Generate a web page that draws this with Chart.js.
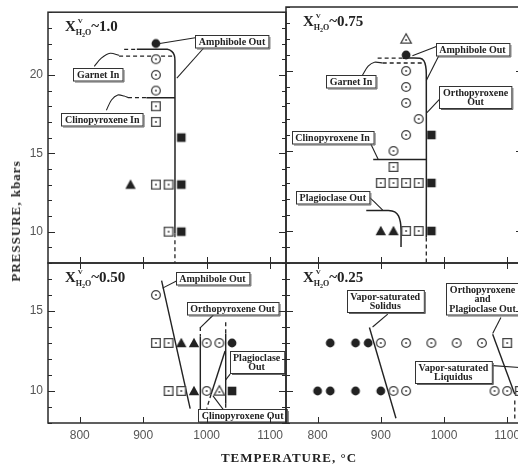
<!DOCTYPE html>
<html>
<head>
<meta charset="utf-8">
<script src="https://cdn.jsdelivr.net/npm/chart.js@4.4.0/dist/chart.umd.min.js"></script>
<style>
  html, body { margin: 0; padding: 0; background: #fff; overflow: hidden; width: 518px; height: 467px; }
  canvas { position: absolute; left: 0; top: 0; }
  .axis-title { position: absolute; font: bold 13px "Liberation Serif", serif; color: #222; letter-spacing: 1px; white-space: nowrap; }
  #ytitle { left: 16px; top: 221px; transform: translate(-50%, -50%) rotate(-90deg); }
  #xtitle { left: 289px; top: 458px; transform: translate(-50%, -50%); }
</style>
</head>
<body>
<canvas id="tl" width="530" height="467"></canvas>
<canvas id="tr" width="530" height="467"></canvas>
<canvas id="bl" width="530" height="467"></canvas>
<canvas id="br" width="530" height="467"></canvas>
<div class="axis-title" id="ytitle">PRESSURE, kbars</div>
<div class="axis-title" id="xtitle">TEMPERATURE, °C</div>
<script>
// ---- tick labels ----
const tempTicks = [800, 900, 1000, 1100];
const topPressTicks = [10, 15, 20];
const bottomPressTicks = [10, 15];

// ---- X(H2O) ~ 1.0 : [temperature, pressure] ----
const w100FilledCircle = [[920, 22]];
const w100OpenCircle = [[920, 21], [920, 20], [920, 19]];
const w100OpenSquare = [[920, 18], [920, 17], [920, 13], [940, 13], [940, 10]];
const w100FilledSquare = [[960, 16], [960, 13], [960, 10]];
const w100FilledTriangle = [[880, 13]];
const w100AmphOut = [[890, 21.63], [938, 21.63], [945, 21.5], [949, 21.25], [950, 20.9], [950, 9.9]];
const w100AmphOutDash = [[870, 21.63], [889, 21.63]];
const w100AmphOutBase = [[950, 9.9], [950, 8]];
const w100GarnetIn = [[862, 21.2], [946, 21.2]];
const w100CpxInDash = [[876, 18.55], [905, 18.55]];
const w100CpxIn = [[905, 18.55], [950, 18.55]];
const w100Leaders = [
  [[982, 22.37], [926, 22.0]],
  [[995, 21.7], [953, 19.8]],
  [[823, 20.55], [834, 21.07], [848, 21.38], [862, 21.25]],
  [[842, 17.75], [850, 18.4], [860, 18.72], [870, 18.65], [876, 18.55]]
];

// ---- X(H2O) ~ 0.75 ----
const w075OpenTriangle = [[940, 22]];
const w075FilledCircle = [[940, 21]];
const w075OpenCircle = [[940, 20], [940, 19], [940, 18], [960, 17], [940, 16], [920, 15]];
const w075OpenSquare = [[920, 14], [900, 13], [920, 13], [940, 13], [960, 13], [940, 10], [960, 10]];
const w075FilledSquare = [[980, 16], [980, 13], [980, 10]];
const w075FilledTriangle = [[900, 10], [920, 10]];
const w075AmphOut = [[935, 20.8], [962, 20.8], [968, 20.65], [971, 20.3], [972, 19.8], [972, 9.6]];
const w075AmphOutDash = [[895, 20.8], [935, 20.8]];
const w075AmphOutBase = [[972, 9.6], [972, 8]];
const w075GarnetIn = [[903, 20.5], [966, 20.5]];
const w075CpxIn = [[888, 14.47], [972, 14.47]];
const w075PlagOut = [[877, 11.28], [912, 11.28], [922, 11.2], [928, 10.95], [931, 10.55], [932, 10.1], [932, 9.0]];
const w075Leaders = [
  [[992, 21.6], [950, 20.95]],
  [[1000, 21.6], [972, 19.4]],
  [[998, 18.45], [973, 17.4]],
  [[871, 19.75], [880, 20.3], [890, 20.55], [903, 20.5]],
  [[884, 15.45], [896, 14.47]],
  [[882, 12.1], [893, 11.7], [903, 11.3]]
];

// ---- X(H2O) ~ 0.50 ----
const w050OpenCircle = [[920, 16], [1000, 13], [1020, 13], [1000, 10]];
const w050OpenSquare = [[920, 13], [940, 13], [940, 10], [960, 10]];
const w050FilledTriangle = [[960, 13], [980, 13], [980, 10]];
const w050FilledCircle = [[1040, 13]];
const w050OpenTriangle = [[1020, 10]];
const w050FilledSquare = [[1040, 10]];
const w050AmphOut = [[929, 16.9], [974, 8.9]];
const w050OpxOut = [[990, 13.4], [990, 8.8]];
const w050OpxOutDash = [[990, 14.0], [990, 13.4], [990, null], [990, 8.8], [990, 8.1]];
const w050PlagOut = [[1030, 13.6], [1030, 9.2]];
const w050PlagOutDash = [[1030, 14.3], [1030, 13.6], [1030, null], [1030, 9.2], [1030, 8.7]];
const w050CpxOut = [[1029, 12.5], [1007, 9.8]];
const w050CpxOutDash = [[1007, 9.8], [1000, 8.9]];
const w050Leaders = [
  [[957, 16.97], [930.5, 16.43]],
  [[1010.5, 14.75], [990.5, 13.97]],
  [[1037, 11.05], [1030, 10.7]],
  [[1026, 8.85], [1010, 9.7]]
];

// ---- X(H2O) ~ 0.25 ----
const w025FilledCircle = [[820, 13], [860, 13], [880, 13], [800, 10], [820, 10], [860, 10], [900, 10]];
const w025OpenCircle = [[900, 13], [940, 13], [980, 13], [1020, 13], [1060, 13], [920, 10], [940, 10], [1080, 10], [1100, 10]];
const w025OpenSquare = [[1100, 13], [1120, 10]];
const w025Solidus = [[882, 13.97], [924, 8.3]];
const w025OpxPlagOut = [[1077, 13.55], [1112, 9.8]];
const w025OpxPlagOutDash = [[1112, 9.4], [1112, 8.2]];
const w025Leaders = [
  [[911, 14.8], [887, 14.0]],
  [[1090, 14.6], [1077, 13.6]],
  [[1072, 11.6], [1125, 11.45]]
];

const ink = '#222';
const labelFont = 'bold 10px "Liberation Serif", serif';

function pts(arr) {
  return arr.map(([x, y]) => ({ x: x, y: y }));
}

function marker(shape, filled) {
  const s = 14, c = document.createElement('canvas');
  c.width = c.height = s;
  const g = c.getContext('2d');
  g.translate(s / 2, s / 2);
  g.beginPath();
  if (shape === 'circle') g.arc(0, 0, 4.4, 0, Math.PI * 2);
  else if (shape === 'square') g.rect(-4.3, -4.3, 8.6, 8.6);
  else { g.moveTo(0, -5.2); g.lineTo(5.2, 4.2); g.lineTo(-5.2, 4.2); g.closePath(); }
  if (filled) {
    g.fillStyle = ink;
    g.fill();
  } else {
    g.fillStyle = '#fff';
    g.fill();
    g.lineWidth = 1.3;
    g.strokeStyle = '#444';
    g.stroke();
    g.beginPath();
    g.arc(0, shape === 'triangle' ? 1 : 0, 1.1, 0, Math.PI * 2);
    g.fillStyle = '#555';
    g.fill();
  }
  return c;
}

const M = {
  filledCircle: marker('circle', true),
  openCircle: marker('circle', false),
  filledSquare: marker('square', true),
  openSquare: marker('square', false),
  filledTriangle: marker('triangle', true),
  openTriangle: marker('triangle', false)
};

function markerSet(arr, style) {
  return { data: pts(arr), pointStyle: M[style], pointRadius: 6, showLine: false, order: 0 };
}

function lineSet(arr, opt) {
  opt = opt || {};
  return {
    data: pts(arr), showLine: true, pointRadius: 0, borderColor: ink,
    borderWidth: opt.width || 1.3, borderDash: opt.dash ? [4, 3] : [],
    tension: opt.curve ? 0.3 : 0, spanGaps: false, order: 1
  };
}

function leaderSets(list) {
  return list.map(l => lineSet(l, { width: 1.1, curve: l.length > 2 }));
}

// frame, inward ticks, panel title and boxed labels
const panelDecor = {
  id: 'panelDecor',
  afterDatasetsDraw(chart, args, opts) {
    const { ctx, chartArea: a, scales: { x, y } } = chart;
    ctx.save();
    // boxed labels
    ctx.font = labelFont;
    ctx.textAlign = 'center';
    ctx.textBaseline = 'middle';
    (opts.labels || []).forEach(lb => {
      const lines = lb.text;
      const lh = 9.5;
      const w = Math.max(...lines.map(t => ctx.measureText(t).width)) + 7;
      const h = lines.length * lh + 3;
      const cx = x.getPixelForValue(lb.x), cy = y.getPixelForValue(lb.y);
      const bx = Math.round(cx - w / 2) + 0.5, by = Math.round(cy - h / 2) + 0.5;
      ctx.fillStyle = '#fff';
      ctx.fillRect(bx, by, w, h);
      ctx.strokeStyle = '#333';
      ctx.lineWidth = 1;
      ctx.strokeRect(bx, by, w, h);
      ctx.beginPath();
      ctx.moveTo(bx + 1.5, by + h + 1);
      ctx.lineTo(bx + w + 1, by + h + 1);
      ctx.lineTo(bx + w + 1, by + 1.5);
      ctx.strokeStyle = '#666';
      ctx.stroke();
      ctx.fillStyle = ink;
      lines.forEach((t, i) => {
        ctx.fillText(t, cx, by + 2 + lh * (i + 0.5));
      });
    });

    // frame
    ctx.strokeStyle = '#2a2a2a';
    ctx.lineWidth = 1.5;
    ctx.strokeRect(a.left, a.top, a.right - a.left, a.bottom - a.top);
    ctx.lineWidth = 1;
    ctx.beginPath();
    for (let p = Math.ceil(y.min); p <= y.max; p++) {
      const py = Math.round(y.getPixelForValue(p)) + 0.5;
      const len = p % 5 === 0 ? 7 : 4;
      ctx.moveTo(a.left, py); ctx.lineTo(a.left + len, py);
      ctx.moveTo(a.right, py); ctx.lineTo(a.right - len, py);
    }
    tempTicks.forEach(t => {
      const px = Math.round(x.getPixelForValue(t)) + 0.5;
      ctx.moveTo(px, a.bottom); ctx.lineTo(px, a.bottom - 6);
      if (opts.topTicks) { ctx.moveTo(px, a.top); ctx.lineTo(px, a.top + 6); }
    });
    ctx.stroke();

    // panel title: X^V_H2O ~ value
    let tx = a.left + 17, ty = a.top + 19;
    ctx.textAlign = 'left';
    ctx.textBaseline = 'alphabetic';
    ctx.fillStyle = ink;
    ctx.font = 'bold 15px "Liberation Serif", serif';
    ctx.fillText('X', tx, ty);
    tx += ctx.measureText('X').width;
    ctx.font = 'bold 7px "Liberation Serif", serif';
    ctx.fillText('V', tx + 2, ty - 8);
    ctx.font = 'bold 8px "Liberation Serif", serif';
    ctx.fillText('H', tx, ty + 4);
    let sx = tx + ctx.measureText('H').width;
    ctx.font = 'bold 6px "Liberation Serif", serif';
    ctx.fillText('2', sx, ty + 6);
    sx += ctx.measureText('2').width;
    ctx.font = 'bold 8px "Liberation Serif", serif';
    ctx.fillText('O', sx, ty + 4);
    sx += ctx.measureText('O').width;
    ctx.font = 'bold 15px "Liberation Serif", serif';
    ctx.fillText('~' + opts.title, sx, ty);
    ctx.restore();
  }
};

const tickFont = { family: '"Liberation Sans", Arial, sans-serif', size: 12 };

function makePanel(id, cfg) {
  const yTicks = cfg.yMax > 20 ? topPressTicks : bottomPressTicks;
  new Chart(document.getElementById(id), {
    type: 'scatter',
    data: { datasets: cfg.datasets },
    options: {
      responsive: false,
      animation: false,
      devicePixelRatio: 1,
      layout: { padding: cfg.padding },
      plugins: {
        legend: { display: false },
        tooltip: { enabled: false },
        panelDecor: { title: cfg.title, labels: cfg.labels, topTicks: cfg.topTicks }
      },
      scales: {
        x: {
          type: 'linear', min: 750, max: 1125, display: cfg.showX,
          afterFit: s => { if (cfg.showX) s.height = 44; },
          afterBuildTicks: s => { s.ticks = tempTicks.map(v => ({ value: v })); },
          grid: { display: false, drawTicks: false },
          border: { display: false },
          ticks: { color: '#555', font: tickFont, padding: 5, maxRotation: 0, callback: v => String(v) }
        },
        y: {
          type: 'linear', min: cfg.yMin, max: cfg.yMax, display: cfg.showY,
          afterFit: s => { if (cfg.showY) s.width = 48; },
          afterBuildTicks: s => { s.ticks = yTicks.map(v => ({ value: v })); },
          grid: { display: false, drawTicks: false },
          border: { display: false },
          ticks: { color: '#555', font: tickFont, padding: 5, callback: v => String(v) }
        }
      }
    },
    plugins: [panelDecor]
  });
}

makePanel('tl', {
  title: '1.0', yMin: 8, yMax: 24, showX: false, showY: true, topTicks: false,
  padding: { left: 0, right: 244, top: 7, bottom: 204 },
  labels: [
    { text: ['Amphibole Out'], x: 1040, y: 22.17 },
    { text: ['Garnet In'], x: 829, y: 20.06 },
    { text: ['Clinopyroxene In'], x: 835.5, y: 17.2 }
  ],
  datasets: [
    markerSet(w100FilledCircle, 'filledCircle'),
    markerSet(w100OpenCircle, 'openCircle'),
    markerSet(w100OpenSquare, 'openSquare'),
    markerSet(w100FilledSquare, 'filledSquare'),
    markerSet(w100FilledTriangle, 'filledTriangle'),
    lineSet(w100AmphOut, { width: 1.5, curve: true }),
    lineSet(w100AmphOutDash, { dash: true }),
    lineSet(w100AmphOutBase, { dash: true }),
    lineSet(w100GarnetIn, { dash: true }),
    lineSet(w100CpxInDash, { dash: true }),
    lineSet(w100CpxIn, { width: 1.5 }),
    ...leaderSets(w100Leaders)
  ]
});

makePanel('tr', {
  title: '0.75', yMin: 8, yMax: 24, showX: false, showY: false, topTicks: false,
  padding: { left: 286, right: 6.5, top: 7, bottom: 204 },
  labels: [
    { text: ['Amphibole Out'], x: 1045, y: 21.33 },
    { text: ['Garnet In'], x: 852.8, y: 19.34 },
    { text: ['Orthopyroxene', 'Out'], x: 1050, y: 18.4 },
    { text: ['Clinopyroxene In'], x: 823.7, y: 15.85 },
    { text: ['Plagioclase Out'], x: 824, y: 12.14 }
  ],
  datasets: [
    markerSet(w075OpenTriangle, 'openTriangle'),
    markerSet(w075FilledCircle, 'filledCircle'),
    markerSet(w075OpenCircle, 'openCircle'),
    markerSet(w075OpenSquare, 'openSquare'),
    markerSet(w075FilledSquare, 'filledSquare'),
    markerSet(w075FilledTriangle, 'filledTriangle'),
    lineSet(w075AmphOut, { width: 1.5, curve: true }),
    lineSet(w075AmphOutDash, { dash: true }),
    lineSet(w075AmphOutBase, { dash: true }),
    lineSet(w075GarnetIn, { dash: true }),
    lineSet(w075CpxIn, { width: 1.5 }),
    lineSet(w075PlagOut, { width: 1.5, curve: true }),
    ...leaderSets(w075Leaders)
  ]
});

makePanel('bl', {
  title: '0.50', yMin: 8, yMax: 18, showX: true, showY: true, topTicks: true,
  padding: { left: 0, right: 244, top: 263, bottom: 0 },
  labels: [
    { text: ['Amphibole Out'], x: 1009, y: 17.07 },
    { text: ['Orthopyroxene Out'], x: 1040.8, y: 15.2 },
    { text: ['Plagioclase', 'Out'], x: 1078.7, y: 11.8 },
    { text: ['Clinopyroxene Out'], x: 1056.6, y: 8.46 }
  ],
  datasets: [
    markerSet(w050OpenCircle, 'openCircle'),
    markerSet(w050OpenSquare, 'openSquare'),
    markerSet(w050FilledTriangle, 'filledTriangle'),
    markerSet(w050FilledCircle, 'filledCircle'),
    markerSet(w050OpenTriangle, 'openTriangle'),
    markerSet(w050FilledSquare, 'filledSquare'),
    lineSet(w050AmphOut, { width: 1.4 }),
    lineSet(w050OpxOut, { width: 1.4 }),
    lineSet(w050OpxOutDash, { dash: true }),
    lineSet(w050PlagOut, { width: 1.4 }),
    lineSet(w050PlagOutDash, { dash: true }),
    lineSet(w050CpxOut, { width: 1.4 }),
    lineSet(w050CpxOutDash, { dash: true }),
    ...leaderSets(w050Leaders)
  ]
});

makePanel('br', {
  title: '0.25', yMin: 8, yMax: 18, showX: true, showY: false, topTicks: true,
  padding: { left: 286, right: 6.5, top: 263, bottom: 0 },
  labels: [
    { text: ['Vapor-saturated', 'Solidus'], x: 907, y: 15.65 },
    { text: ['Orthopyroxene', 'and', 'Plagioclase Out'], x: 1061, y: 15.75 },
    { text: ['Vapor-saturated', 'Liquidus'], x: 1014.7, y: 11.2 }
  ],
  datasets: [
    markerSet(w025FilledCircle, 'filledCircle'),
    markerSet(w025OpenCircle, 'openCircle'),
    markerSet(w025OpenSquare, 'openSquare'),
    lineSet(w025Solidus, { width: 1.4 }),
    lineSet(w025OpxPlagOut, { width: 1.4 }),
    lineSet(w025OpxPlagOutDash, { dash: true }),
    ...leaderSets(w025Leaders)
  ]
});
</script>
</body>
</html>
